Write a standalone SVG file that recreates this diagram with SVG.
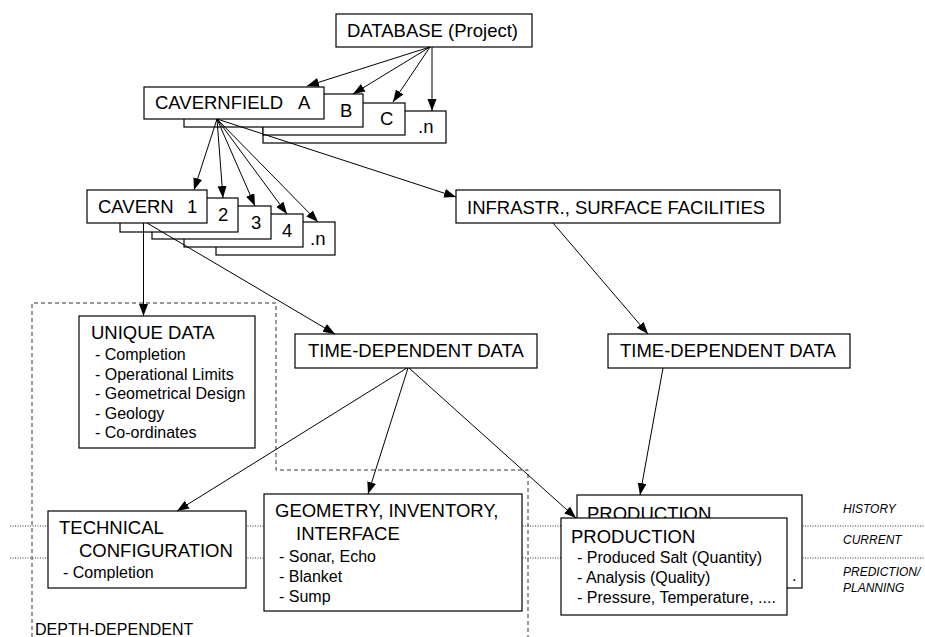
<svg xmlns="http://www.w3.org/2000/svg" width="925" height="637" viewBox="0 0 925 637">
<defs>
<marker id="ah" markerUnits="userSpaceOnUse" markerWidth="13" markerHeight="10" refX="12" refY="4.5" orient="auto">
<path d="M0,0 L12,4.5 L0,9 z" fill="#000"/>
</marker>
<style>
.b{fill:#fff;stroke:#000;stroke-width:1.2}
.t{font-family:"Liberation Sans",Arial,sans-serif;font-size:18.5px;fill:#000}
.s{font-family:"Liberation Sans",Arial,sans-serif;font-size:16px;fill:#000}
.l{font-family:"Liberation Sans",Arial,sans-serif;font-size:12px;font-style:italic;fill:#000}
.c{fill:none;stroke:#000;stroke-width:1;marker-end:url(#ah)}
.dot{fill:none;stroke:#333;stroke-width:1;stroke-dasharray:1 1.5}
.dash{fill:none;stroke:#333;stroke-width:1;stroke-dasharray:4 3}
</style>
</defs>
<rect width="925" height="637" fill="#fff"/>
<g id="bands">
<line class="dot" x1="10" y1="526" x2="925" y2="526"/>
<line class="dot" x1="10" y1="558" x2="925" y2="558"/>
<text class="l" x="843" y="513">HISTORY</text>
<text class="l" x="843" y="544">CURRENT</text>
<text class="l" x="843" y="576">PREDICTION/</text>
<text class="l" x="843" y="592">PLANNING</text>
</g>
<g id="depth-region">
<path class="dash" d="M32,637 V303 H276 V470 H528 V637"/>
<text class="s" x="35" y="635">DEPTH-DEPENDENT</text>
</g>
<g id="database">
<rect class="b" x="336" y="14" width="196" height="33"/>
<text class="t" x="347" y="37">DATABASE (Project)</text>
</g>
<g id="cavernfield-n">
<rect class="b" x="263" y="111" width="183" height="32"/>
<text class="t" x="418" y="133">.n</text>
</g>
<g id="cavernfield-c">
<rect class="b" x="263" y="103" width="142" height="32"/>
<text class="t" x="380" y="125">C</text>
</g>
<g id="cavernfield-b">
<rect class="b" x="184" y="94" width="179" height="33"/>
<text class="t" x="340" y="117">B</text>
</g>
<g id="cavernfield-a">
<rect class="b" x="144" y="87" width="180" height="32"/>
<text class="t" x="155" y="109">CAVERNFIELD<tspan x="298">A</tspan></text>
</g>
<g id="cavern-n">
<rect class="b" x="216" y="222" width="119" height="33"/>
<text class="t" x="310" y="245">.n</text>
</g>
<g id="cavern-4">
<rect class="b" x="184" y="214" width="119" height="33"/>
<text class="t" x="282" y="237">4</text>
</g>
<g id="cavern-3">
<rect class="b" x="152" y="206" width="119" height="33"/>
<text class="t" x="251" y="229">3</text>
</g>
<g id="cavern-2">
<rect class="b" x="120" y="198" width="118" height="34"/>
<text class="t" x="218" y="221">2</text>
</g>
<g id="cavern-1">
<rect class="b" x="87" y="190" width="120" height="33"/>
<text class="t" x="98" y="213">CAVERN<tspan x="187">1</tspan></text>
</g>
<g id="infrastr">
<rect class="b" x="456" y="190" width="324" height="33"/>
<text class="t" x="467" y="214">INFRASTR., SURFACE FACILITIES</text>
</g>
<g id="unique-data">
<rect class="b" x="79" y="316" width="176" height="132"/>
<text class="t" x="91" y="339">UNIQUE DATA</text>
<text class="s" x="95" y="360">- Completion</text>
<text class="s" x="95" y="379.5">- Operational Limits</text>
<text class="s" x="95" y="399">- Geometrical Design</text>
<text class="s" x="95" y="418.5">- Geology</text>
<text class="s" x="95" y="438">- Co-ordinates</text>
</g>
<g id="time-dependent-cavern">
<rect class="b" x="295" y="334" width="242" height="34"/>
<text class="t" x="308" y="357">TIME-DEPENDENT DATA</text>
</g>
<g id="time-dependent-surface">
<rect class="b" x="608" y="334" width="242" height="34"/>
<text class="t" x="620" y="357">TIME-DEPENDENT DATA</text>
</g>
<g id="technical-configuration">
<rect class="b" x="48" y="511" width="198" height="77"/>
<text class="t" x="59" y="534">TECHNICAL</text>
<text class="t" x="79" y="557">CONFIGURATION</text>
<text class="s" x="63" y="578">- Completion</text>
</g>
<g id="geometry">
<rect class="b" x="264" y="494" width="258" height="117"/>
<text class="t" x="275" y="517">GEOMETRY, INVENTORY,</text>
<text class="t" x="296" y="540">INTERFACE</text>
<text class="s" x="279" y="562">- Sonar, Echo</text>
<text class="s" x="279" y="582">- Blanket</text>
<text class="s" x="279" y="602">- Sump</text>
</g>
<g id="production-surface">
<rect class="b" x="577" y="495" width="225" height="93"/>
<text class="t" x="587" y="520">PRODUCTION</text>
<text class="s" x="792" y="581">.</text>
</g>
<g id="production-cavern">
<rect class="b" x="561" y="518" width="226" height="97"/>
<text class="t" x="571" y="543">PRODUCTION</text>
<text class="s" x="577" y="563">- Produced Salt (Quantity)</text>
<text class="s" x="577" y="583">- Analysis (Quality)</text>
<text class="s" x="577" y="603">- Pressure, Temperature, ....</text>
</g>
<g id="connectors">
<line class="c" x1="430" y1="47" x2="307" y2="86"/>
<line class="c" x1="430" y1="47" x2="353" y2="94"/>
<line class="c" x1="430" y1="47" x2="393" y2="102"/>
<line class="c" x1="432" y1="47" x2="432" y2="111"/>
<line class="c" x1="217" y1="119" x2="194" y2="190"/>
<line class="c" x1="217" y1="119" x2="223" y2="198"/>
<line class="c" x1="217" y1="119" x2="255" y2="206"/>
<line class="c" x1="217" y1="119" x2="287" y2="214"/>
<line class="c" x1="217" y1="119" x2="318" y2="222"/>
<line class="c" x1="217" y1="119" x2="456" y2="197"/>
<line class="c" x1="143.5" y1="223" x2="143.5" y2="316"/>
<line class="c" x1="147" y1="223" x2="335" y2="334"/>
<line class="c" x1="553" y1="223" x2="648" y2="334"/>
<line class="c" x1="663" y1="368" x2="640" y2="495"/>
<line class="c" x1="407" y1="368" x2="177" y2="511"/>
<line class="c" x1="408" y1="368" x2="368" y2="494"/>
<line class="c" x1="409" y1="368" x2="576" y2="518"/>
</g>
</svg>
